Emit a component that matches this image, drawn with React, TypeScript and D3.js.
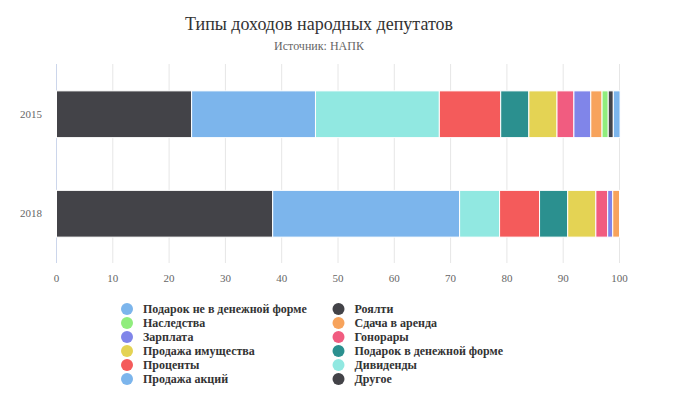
import React from "react";
import * as d3 from "d3";

const categories = ["2015", "2018"];
const seriesNames = [
  "Подарок не в денежной форме",
  "Роялти",
  "Наследства",
  "Сдача в аренда",
  "Зарплата",
  "Гонорары",
  "Продажа имущества",
  "Подарок в денежной форме",
  "Проценты",
  "Дивиденды",
  "Продажа акций",
  "Другое",
];
const values2015 = [1.2, 0.9, 1.1, 2, 3, 3, 5, 5, 10.9, 22, 22, 24];
const values2018 = [0, 0, 0, 1.2, 0.9, 2.1, 5, 5, 7.1, 7.1, 33.2, 38.4];
const colors = [
  "#7cb5ec", "#434348", "#90ed7d", "#f7a35c", "#8085e9", "#f15c80",
  "#e4d354", "#2b908f", "#f45b5b", "#91e8e1", "#7cb5ec", "#434348",
];
const xTicks = [0, 10, 20, 30, 40, 50, 60, 70, 80, 90, 100];

const W = 690;
const H = 420;
const FONT = { fontFamily: "Liberation Serif, Times New Roman, serif" };

export default function App() {
  const x = d3.scaleLinear().domain([0, 100]).range([56.5, 619.5]);
  const y = d3.scaleBand().domain(categories).range([64, 263]).padding(0);
  const rows = categories.map((c, ci) => {
    const obj: any = { cat: c };
    seriesNames.forEach((s, si) => {
      obj[s] = ci === 0 ? values2015[si] : values2018[si];
    });
    return obj;
  });
  // Highcharts stacks last series first (leftmost)
  const keys = [...seriesNames].reverse();
  const stacked = d3.stack().keys(keys)(rows as any);
  const bw = y.bandwidth();

  return (
    <svg width={W} height={H} style={{ position: "absolute", left: 0, top: 0, background: "#fff" }}>
      <rect width={W} height={H} fill="#fff" />
      <text x={319} y={30} textAnchor="middle" style={FONT} fontSize={18} fill="#333">
        Типы доходов народных депутатов
      </text>
      <text x={319} y={50} textAnchor="middle" style={FONT} fontSize={12} fill="#666">
        Источник: НАПК
      </text>
      {xTicks.map((t) => (
        <g key={t}>
          <line x1={x(t)} x2={x(t)} y1={64} y2={263} stroke="#e6e6e6" strokeWidth={1} />
          <text x={x(t)} y={282} textAnchor="middle" style={FONT} fontSize={11} fill="#666">
            {t}
          </text>
        </g>
      ))}
      <line x1={56.5} x2={56.5} y1={64} y2={263} stroke="#ccd6eb" strokeWidth={1} />
      {categories.map((c) => (
        <text key={c} x={42} y={(y(c) as number) + bw / 2 + 4} textAnchor="end" style={FONT} fontSize={11} fill="#666">
          {c}
        </text>
      ))}
      {stacked.map((layer) => {
        const si = seriesNames.indexOf(layer.key as string);
        return (
          <g key={layer.key}>
            {layer.map((d: any, i) => {
              const w = x(d[1]) - x(d[0]);
              if (w <= 0) return null;
              return (
                <rect
                  key={i}
                  x={x(d[0])}
                  y={(y(d.data.cat) as number) + bw * 0.27}
                  width={w}
                  height={bw * 0.47}
                  fill={colors[si]}
                  stroke="#fff"
                  strokeWidth={1}
                />
              );
            })}
          </g>
        );
      })}
      {seriesNames.map((s, i) => {
        const col = i % 2;
        const row = Math.floor(i / 2);
        const cx = col === 0 ? 127 : 338.5;
        const cy = 309 + row * 14;
        return (
          <g key={s}>
            <circle cx={cx} cy={cy} r={6} fill={colors[i]} />
            <text x={cx + 16} y={cy + 4} style={FONT} fontSize={12} fontWeight="bold" fill="#333">
              {s}
            </text>
          </g>
        );
      })}
    </svg>
  );
}
